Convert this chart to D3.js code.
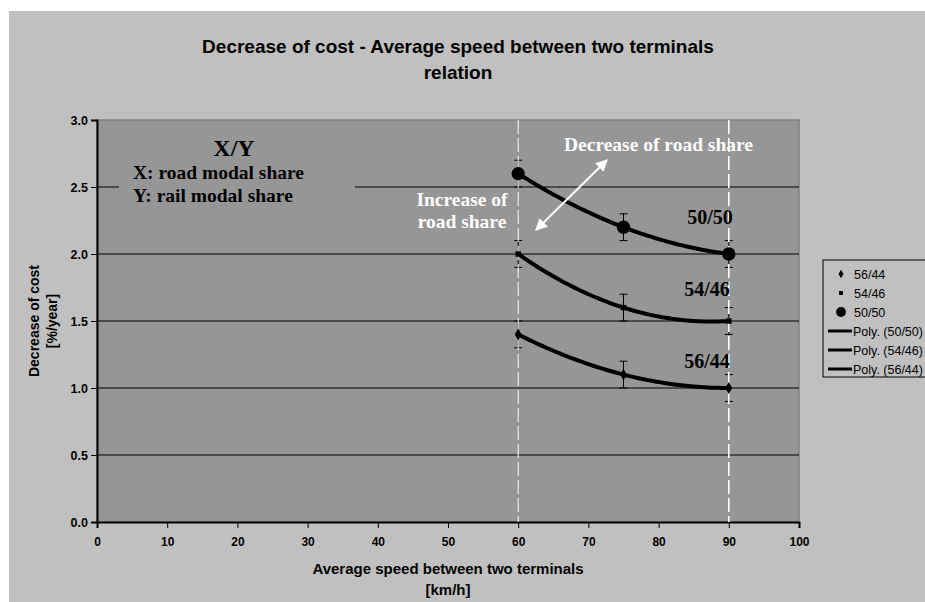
<!DOCTYPE html>
<html>
<head>
<meta charset="utf-8">
<script src="https://cdn.jsdelivr.net/npm/d3@7"></script>
<style>
  body { margin: 0; background: #fff; }
  svg { display: block; }
  .sans { font-family: "Liberation Sans", Arial, sans-serif; font-weight: bold; }
  .plain { font-family: "Liberation Sans", Arial, sans-serif; font-weight: normal; }
  .serif { font-family: "Liberation Serif", "Times New Roman", serif; font-weight: bold; }
</style>
</head>
<body>
<svg id="chart" width="925" height="602"></svg>
<script>
// speeds measured (km/h) and decrease of cost (%/year) per modal split
const speeds = [60, 75, 90];
const share5050 = [2.6, 2.2, 2.0];
const share5446 = [2.0, 1.6, 1.5];
const share5644 = [1.4, 1.1, 1.0];
const errorMargin = 0.1;

const xTicks = [0, 10, 20, 30, 40, 50, 60, 70, 80, 90, 100];
const yTicks = [0, 0.5, 1.0, 1.5, 2.0, 2.5, 3.0];
const gridValues = [0.5, 1.0, 1.5, 2.0, 2.5];
const guideSpeeds = [60, 90];

const seriesNames = ['56/44', '54/46', '50/50'];
const seriesValues = [share5644, share5446, share5050];
const seriesMarkers = ['diamond', 'square', 'circle'];
const trendNames = ['Poly. (50/50)', 'Poly. (54/46)', 'Poly. (56/44)'];

// order-2 polynomial trend (Excel "Poly." trendline) through the points
const polyFit = (xs, ys) => {
    const n = xs.length;
    let s = [0, 0, 0, 0, 0], t = [0, 0, 0];
    for (let i = 0; i < n; i++) {
        for (let k = 0; k < 5; k++) s[k] += Math.pow(xs[i], k);
        for (let k = 0; k < 3; k++) t[k] += ys[i] * Math.pow(xs[i], k);
    }
    const m = [[s[0], s[1], s[2], t[0]], [s[1], s[2], s[3], t[1]], [s[2], s[3], s[4], t[2]]];
    for (let c = 0; c < 3; c++) {
        for (let r = c + 1; r < 3; r++) {
            const f = m[r][c] / m[c][c];
            for (let k = c; k < 4; k++) m[r][k] -= f * m[c][k];
        }
    }
    const b = [0, 0, 0];
    for (let r = 2; r >= 0; r--) {
        let v = m[r][3];
        for (let k = r + 1; k < 3; k++) v -= m[r][k] * b[k];
        b[r] = v / m[r][r];
    }
    return (x) => b[0] + b[1] * x + b[2] * x * x;
};

const svg = d3.select('#chart');

// outer chart area
svg.append('rect').attr('x', 9).attr('y', 11).attr('width', 916).attr('height', 591).attr('fill', '#c0c0c0');

const plot = { left: 97, right: 799, top: 120, bottom: 522 };
const xs = d3.scaleLinear().domain([0, 100]).range([plot.left, plot.right]);
const ys = d3.scaleLinear().domain([0, 3]).range([plot.bottom, plot.top]);

svg.append('rect')
    .attr('x', plot.left).attr('y', plot.top)
    .attr('width', plot.right - plot.left).attr('height', plot.bottom - plot.top)
    .attr('fill', '#969696').attr('stroke', '#808080').attr('stroke-width', 1.5);

// title
const title = svg.append('text').attr('class', 'sans').attr('text-anchor', 'middle').attr('font-size', 19).attr('fill', '#000');
title.append('tspan').attr('x', 458).attr('y', 53).text('Decrease of cost - Average speed between two terminals');
title.append('tspan').attr('x', 458).attr('y', 79).text('relation');

// grid lines
svg.append('g')
    .selectAll('line')
    .data(gridValues)
    .enter()
    .append('line')
    .attr('x1', plot.left).attr('x2', plot.right)
    .attr('y1', d => ys(d)).attr('y2', d => ys(d))
    .attr('stroke', '#000').attr('stroke-width', 1);

// text box "X/Y" hides part of the upper grid line
svg.append('rect').attr('x', 119).attr('y', 130).attr('width', 236).attr('height', 80).attr('fill', '#969696');

// axes
const yAxis = svg.append('g')
    .attr('transform', `translate(${plot.left},0)`)
    .call(d3.axisLeft(ys).tickValues(yTicks).tickFormat(d3.format('.1f')).tickSize(6).tickPadding(3));
const xAxis = svg.append('g')
    .attr('transform', `translate(0,${plot.bottom})`)
    .call(d3.axisBottom(xs).tickValues(xTicks).tickSize(6).tickPadding(9));
yAxis.selectAll('text').attr('class', 'sans').attr('font-size', 12.5).attr('fill', '#000');
xAxis.selectAll('text').attr('class', 'sans').attr('font-size', 12).attr('fill', '#000');
[yAxis, xAxis].forEach(a => {
    a.selectAll('line').attr('stroke', '#000');
    a.select('.domain').attr('stroke', '#000').attr('stroke-width', 2);
});

// axis titles
const yTitle = svg.append('g').attr('class', 'sans').attr('font-size', 14).attr('text-anchor', 'middle');
yTitle.append('text').attr('transform', 'translate(39,321) rotate(-90)').text('Decrease of cost');
yTitle.append('text').attr('transform', 'translate(57,321) rotate(-90)').text('[%/year]');
const xTitle = svg.append('g').attr('class', 'sans').attr('font-size', 15).attr('text-anchor', 'middle');
xTitle.append('text').attr('x', 448).attr('y', 574).text('Average speed between two terminals');
xTitle.append('text').attr('x', 448).attr('y', 595).text('[km/h]');

// trend lines
const lineGen = d3.line().x(d => xs(d[0])).y(d => ys(d[1]));
const trendSamples = d3.range(speeds[0], speeds[speeds.length - 1] + 0.25, 0.5);
svg.append('g')
    .selectAll('path')
    .data(seriesValues)
    .enter()
    .append('path')
    .attr('d', vals => {
        const f = polyFit(speeds, vals);
        return lineGen(trendSamples.map(x => [x, f(x)]));
    })
    .attr('fill', 'none').attr('stroke', '#000').attr('stroke-width', 4);

// error bars
const errPoints = [];
seriesValues.forEach(vals => vals.forEach((v, i) => errPoints.push({ x: speeds[i], y: v })));
const err = svg.append('g').attr('stroke', '#000').attr('stroke-width', 1);
errPoints.forEach(p => {
    err.append('line').attr('x1', xs(p.x)).attr('x2', xs(p.x)).attr('y1', ys(p.y - errorMargin)).attr('y2', ys(p.y + errorMargin));
    err.append('line').attr('x1', xs(p.x) - 4).attr('x2', xs(p.x) + 4).attr('y1', ys(p.y - errorMargin)).attr('y2', ys(p.y - errorMargin));
    err.append('line').attr('x1', xs(p.x) - 4).attr('x2', xs(p.x) + 4).attr('y1', ys(p.y + errorMargin)).attr('y2', ys(p.y + errorMargin));
});

// dashed speed guides
svg.append('g')
    .selectAll('line')
    .data(guideSpeeds)
    .enter()
    .append('line')
    .attr('x1', d => xs(d)).attr('x2', d => xs(d))
    .attr('y1', plot.top).attr('y2', plot.bottom)
    .attr('stroke', '#fff').attr('stroke-width', (d, i) => i ? 1.6 : 1)
    .attr('stroke-dasharray', '14,4');

// markers
const symbolFor = (kind, size) => {
    const type = kind === 'circle' ? d3.symbolCircle : kind === 'square' ? d3.symbolSquare : d3.symbolDiamond;
    return d3.symbol().type(type).size(size)();
};
const markerSize = { circle: 140, square: 30, diamond: 40 };
seriesValues.forEach((vals, si) => {
    svg.append('g')
        .selectAll('path')
        .data(vals)
        .enter()
        .append('path')
        .attr('transform', (d, i) => `translate(${xs(speeds[i])},${ys(d)})`)
        .attr('d', symbolFor(seriesMarkers[si], markerSize[seriesMarkers[si]]))
        .attr('fill', '#000');
});

// annotations
const note = svg.append('g').attr('class', 'serif');
note.append('text').attr('x', 234).attr('y', 156).attr('text-anchor', 'middle').attr('font-size', 24).text('X/Y');
note.append('text').attr('x', 133).attr('y', 179).attr('font-size', 19.5).text('X: road modal share');
note.append('text').attr('x', 133).attr('y', 202).attr('font-size', 19.5).text('Y: rail modal share');

note.append('text').attr('x', 564).attr('y', 151).attr('font-size', 19.5).attr('fill', '#fff').text('Decrease of road share');
note.append('text').attr('x', 462).attr('y', 206).attr('text-anchor', 'middle').attr('font-size', 19.5).attr('fill', '#fff').text('Increase of');
note.append('text').attr('x', 462).attr('y', 228).attr('text-anchor', 'middle').attr('font-size', 19.5).attr('fill', '#fff').text('road share');

const curveLabels = [{ name: '50/50', x: 710, y: 224 }, { name: '54/46', x: 707, y: 296 }, { name: '56/44', x: 707, y: 368 }];
note.selectAll('text.curve')
    .data(curveLabels)
    .enter()
    .append('text')
    .attr('class', 'curve')
    .attr('x', d => d.x).attr('y', d => d.y)
    .attr('text-anchor', 'middle').attr('font-size', 20)
    .text(d => d.name);

// double arrow
const defs = svg.append('defs');
defs.append('marker')
    .attr('id', 'head').attr('viewBox', '0 0 10 10').attr('refX', 9).attr('refY', 5)
    .attr('markerWidth', 6).attr('markerHeight', 6).attr('orient', 'auto-start-reverse')
    .append('path').attr('d', 'M0,0 L10,5 L0,10 z').attr('fill', '#fff');
svg.append('line')
    .attr('x1', 536).attr('y1', 230).attr('x2', 607).attr('y2', 160)
    .attr('stroke', '#fff').attr('stroke-width', 2)
    .attr('marker-start', 'url(#head)').attr('marker-end', 'url(#head)');

// legend (box runs past the right edge, as in the original)
const legend = svg.append('g').attr('transform', 'translate(823,260)');
legend.append('rect').attr('width', 140).attr('height', 117).attr('fill', '#c0c0c0').attr('stroke', '#000').attr('stroke-width', 1);
seriesNames.forEach((name, i) => {
    const y = 14 + i * 19;
    legend.append('path')
        .attr('transform', `translate(18,${y})`)
        .attr('d', symbolFor(seriesMarkers[i], markerSize[seriesMarkers[i]] * 0.55))
        .attr('fill', '#000');
    legend.append('text').attr('class', 'plain').attr('x', 31).attr('y', y + 5).attr('font-size', 12.5).text(name);
});
trendNames.forEach((name, i) => {
    const y = 71 + i * 19;
    legend.append('line').attr('x1', 5).attr('x2', 29).attr('y1', y).attr('y2', y).attr('stroke', '#000').attr('stroke-width', 3);
    legend.append('text').attr('class', 'plain').attr('x', 30).attr('y', y + 5).attr('font-size', 12.5).text(name);
});
</script>
</body>
</html>
